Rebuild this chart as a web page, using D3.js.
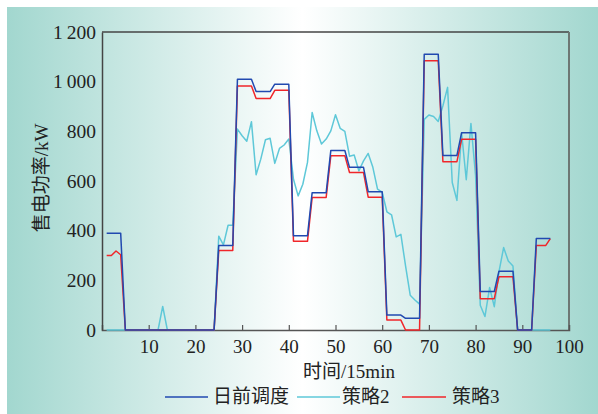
<!DOCTYPE html>
<html>
<head>
<meta charset="utf-8">
<script src="https://cdn.jsdelivr.net/npm/d3@7"></script>
<style>
  body { margin: 0; background: #fff; }
  svg text { font-family: "Liberation Serif", "Noto Sans CJK SC", serif; fill: #222; }
</style>
</head>
<body>
<div id="chart"></div>
<script>
// time slots (15 min each)
let slots = d3.range(1, 97);

// day-ahead schedule
let dayAhead = [390,390,390,390, 0,0,0,0, 0,0,0,0, 0,0,0,0, 0,0,0,0, 0,0,0,0,
  340,340,340,340, 1010,1010,1010,1010, 960,960,960,960, 990,990,990,990,
  380,380,380,380, 553,553,553,553, 723,723,723,723, 655,655,655,655, 557,557,557,557,
  60,60,60,60, 47,47,47,47, 1110,1110,1110,1110, 703,703,703,703, 794,794,794,794,
  155,155,155,155, 237,237,237,237, 0,0,0,0, 368,368,368,368];

// strategy 2
let strategy2 = [0,0,0,0, 0,0,0,0, 0,0,0,0, 95,0,0,0, 0,0,0,0, 0,0,0,0,
  378,343,422,422, 809,782,760,839, 625,688,766,772, 671,731,745,769,
  607,540,587,675, 876,802,749,769, 802,867,812,800, 700,705,641,681, 711,655,567,555,
  476,464,375,385, 258,140,121,104, 848,866,860,840, 903,977,594,522, 794,605,832,620,
  100,54,171,94, 234,332,278,258, 0,0,0,0, 0,0,0,0];

// strategy 3
let strategy3 = [300,300,318,303, 0,0,0,0, 0,0,0,0, 0,0,0,0, 0,0,0,0, 0,0,0,0,
  320,320,320,320, 983,983,983,983, 932,932,932,932, 965,965,965,965,
  357,357,357,357, 534,534,534,534, 702,702,702,702, 634,634,634,634, 535,535,535,535,
  40,40,40,40, 0,0,0,0, 1084,1084,1084,1084, 678,678,678,678, 768,768,768,768,
  126,126,126,126, 214,214,214,214, 0,0,0,0, 340,340,340,368];

let xTicks = [10,20,30,40,50,60,70,80,90,100];
let yTicks = [0,200,400,600,800,1000,1200];
let seriesNames = ["日前调度", "策略2", "策略3"];
let seriesColors = ["#2149b0", "#5ec8d8", "#f0262a"];

let width = 598, height = 414;
let margin = ({top: 32, right: 29, bottom: 84, left: 102});

let svg = d3.select("#chart").append("svg")
  .attr("width", width)
  .attr("height", height);

// background gradient
let defs = svg.append("defs");
let grad = defs.append("linearGradient").attr("id", "bg").attr("x1", 0).attr("x2", 1).attr("y1", 0).attr("y2", 0);
grad.append("stop").attr("offset", "0%").attr("stop-color", "#a2d7cf");
grad.append("stop").attr("offset", "50%").attr("stop-color", "#ffffff");
grad.append("stop").attr("offset", "100%").attr("stop-color", "#a2d7cf");

svg.append("rect")
  .attr("x", 7).attr("y", 7)
  .attr("width", width - 7).attr("height", height - 7)
  .attr("fill", "url(#bg)");

let x = d3.scaleLinear().domain([0, 100]).range([margin.left, width - margin.right]);
let y = d3.scaleLinear().domain([0, 1200]).range([height - margin.bottom, margin.top]);

////////////////////
//   Frame & axes
////////////////////
svg.append("line")
  .attr("x1", x(0)).attr("x2", x(100)).attr("y1", y(1200)).attr("y2", y(1200))
  .attr("stroke", "#444").attr("stroke-width", 1.5);
svg.append("line")
  .attr("x1", x(100)).attr("x2", x(100)).attr("y1", y(1200)).attr("y2", y(0))
  .attr("stroke", "#6d7774").attr("stroke-width", 2);

let xAxis = svg.append("g")
  .attr("transform", "translate(0," + y(0) + ")")
  .call(d3.axisBottom(x).tickValues(xTicks).tickSize(-5).tickPadding(10).tickFormat(d3.format("d")));
xAxis.select(".domain").attr("stroke", "#555").attr("stroke-width", 1.5);
xAxis.selectAll(".tick line").attr("stroke", "#555").attr("stroke-width", 1.2);
xAxis.selectAll(".tick").filter(d => d == 100).select("line").remove();
xAxis.selectAll("text").attr("font-size", "19px").attr("font-family", "Liberation Serif").attr("fill", "#222");

let yAxis = svg.append("g")
  .attr("transform", "translate(" + x(0) + ",0)")
  .call(d3.axisLeft(y).tickValues(yTicks).tickSize(0).tickPadding(6)
    .tickFormat(d => d >= 1000 ? Math.floor(d / 1000) + "\u2009" + d3.format("03d")(d % 1000) : d));
yAxis.select(".domain").attr("stroke", "#444").attr("stroke-width", 1.5);
yAxis.selectAll("text").attr("font-size", "19.5px").attr("font-family", "Liberation Serif").attr("fill", "#222");

////////////////////
//   Lines
////////////////////
let line = d3.line()
  .x(d => x(d[0]))
  .y(d => y(d[1]));

let allSeries = [strategy2, strategy3, dayAhead];
let allColors = [seriesColors[1], seriesColors[2], seriesColors[0]];
allSeries.forEach(function(vals, i) {
  svg.append("path")
    .datum(slots.map((s, j) => [s, vals[j]]))
    .attr("fill", "none")
    .attr("stroke", allColors[i])
    .attr("stroke-width", 1.5)
    .attr("stroke-linejoin", "round")
    .attr("d", line);
});

////////////////////
//   Axis labels
////////////////////
svg.append("text")
  .attr("x", 349).attr("y", 378)
  .attr("text-anchor", "middle")
  .attr("font-size", "19px")
  .text("时间/15min");

svg.append("text")
  .attr("transform", "translate(48,178) rotate(-90)")
  .attr("text-anchor", "middle")
  .attr("font-size", "19px")
  .text("售电功率/kW");

////////////////////
//   Legend
////////////////////
let legendItems = [
  {x1: 165, x2: 208, tx: 213},
  {x1: 297, x2: 340, tx: 342},
  {x1: 402, x2: 446, tx: 452}
];
legendItems.forEach(function(it, i) {
  svg.append("line")
    .attr("x1", it.x1).attr("x2", it.x2).attr("y1", 397).attr("y2", 397)
    .attr("stroke", seriesColors[i]).attr("stroke-width", 1.5);
  svg.append("text")
    .attr("x", it.tx).attr("y", 403)
    .attr("font-size", "19px")
    .text(seriesNames[i]);
});
</script>
</body>
</html>
